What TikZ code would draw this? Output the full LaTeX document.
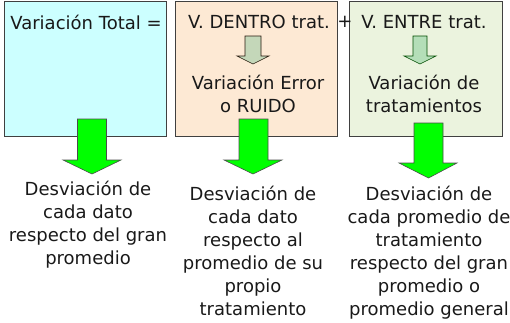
\documentclass[tikz,border=0pt]{standalone}
\usepackage{fontspec}
\setmainfont{DejaVu Sans}
\usetikzlibrary{positioning}

\definecolor{totalfill}{RGB}{204,255,255}
\definecolor{dentrofill}{RGB}{253,233,212}
\definecolor{entrefill}{RGB}{235,243,222}
\definecolor{arrowgreen}{RGB}{0,255,0}
\definecolor{dentroarrow}{RGB}{196,215,185}
\definecolor{entrearrow}{RGB}{180,222,184}

\begin{document}
\begin{tikzpicture}[x=1pt, y=-1pt,
    box/.style={draw=black!75, line width=0.8pt, anchor=north west, minimum height=135pt},
    txt/.style={font=\fontsize{18}{23}\selectfont, align=center, text=black!90, inner sep=0pt},
    bigarrow/.style={draw=black!70, line width=0.6pt, fill=arrowgreen, line join=miter}]
      \useasboundingbox (0,0) rectangle (510,322);
      % boxes
      \node[box,fill=totalfill,minimum width=162pt] (total) at (4,1) {};
      \node[box,fill=dentrofill,minimum width=162pt] (dentro) at (175,1) {};
      \node[box,fill=entrefill,minimum width=153pt] (entre) at (349,1) {};
      % texts inside the boxes
      \node[txt] (vtotal) at (86,22) {Variación Total =};
      \node[txt] (vdentro) at (259,22) {V. DENTRO trat.};
      \node[txt] (plus) at (345,22) {+};
      \node[txt] (ventre) at (424,22) {V. ENTRE trat.};
      \node[txt] (ruido) at (258,94) {Variación Error\\o RUIDO};
      \node[txt] (tratam) at (424,94) {Variación de\\tratamientos};
      % small arrows
      \draw[draw=black!80!brown, line width=0.6pt, fill=dentroarrow]
        (245,36) -- (261,36) -- (261,56) -- (269,56) -- (253,64) -- (237,56) -- (245,56) -- cycle;
      \draw[draw=black!70!green, line width=0.6pt, fill=entrearrow]
        (413,36) -- (427,36) -- (427,56) -- (436,56) -- (420,64) -- (404,56) -- (413,56) -- cycle;
      % green arrows
      \draw[bigarrow] (77.5,119) -- (106.5,119) -- (106.5,160) -- (121,160) -- (92,174) -- (63,160) -- (77.5,160) -- cycle;
      \draw[bigarrow] (239,119) -- (268,119) -- (268,160) -- (282,160) -- (253,174) -- (224,160) -- (239,160) -- cycle;
      \draw[bigarrow] (414,123) -- (443,123) -- (443,163) -- (457,163) -- (428.5,178) -- (399,163) -- (414,163) -- cycle;
      % bottom texts
      \node[txt,anchor=north] (desvtotal) at (88,181) {Desviación de\\cada dato\\respecto del gran\\promedio};
      \node[txt,anchor=north] (desvdentro) at (253,186) {Desviación de\\cada dato\\respecto al\\promedio de su\\propio\\tratamiento};
      \node[txt,anchor=north] (desventre) at (429,186) {Desviación de\\cada promedio de\\tratamiento\\respecto del gran\\promedio o\\promedio general};
   \end{tikzpicture}
\end{document}
